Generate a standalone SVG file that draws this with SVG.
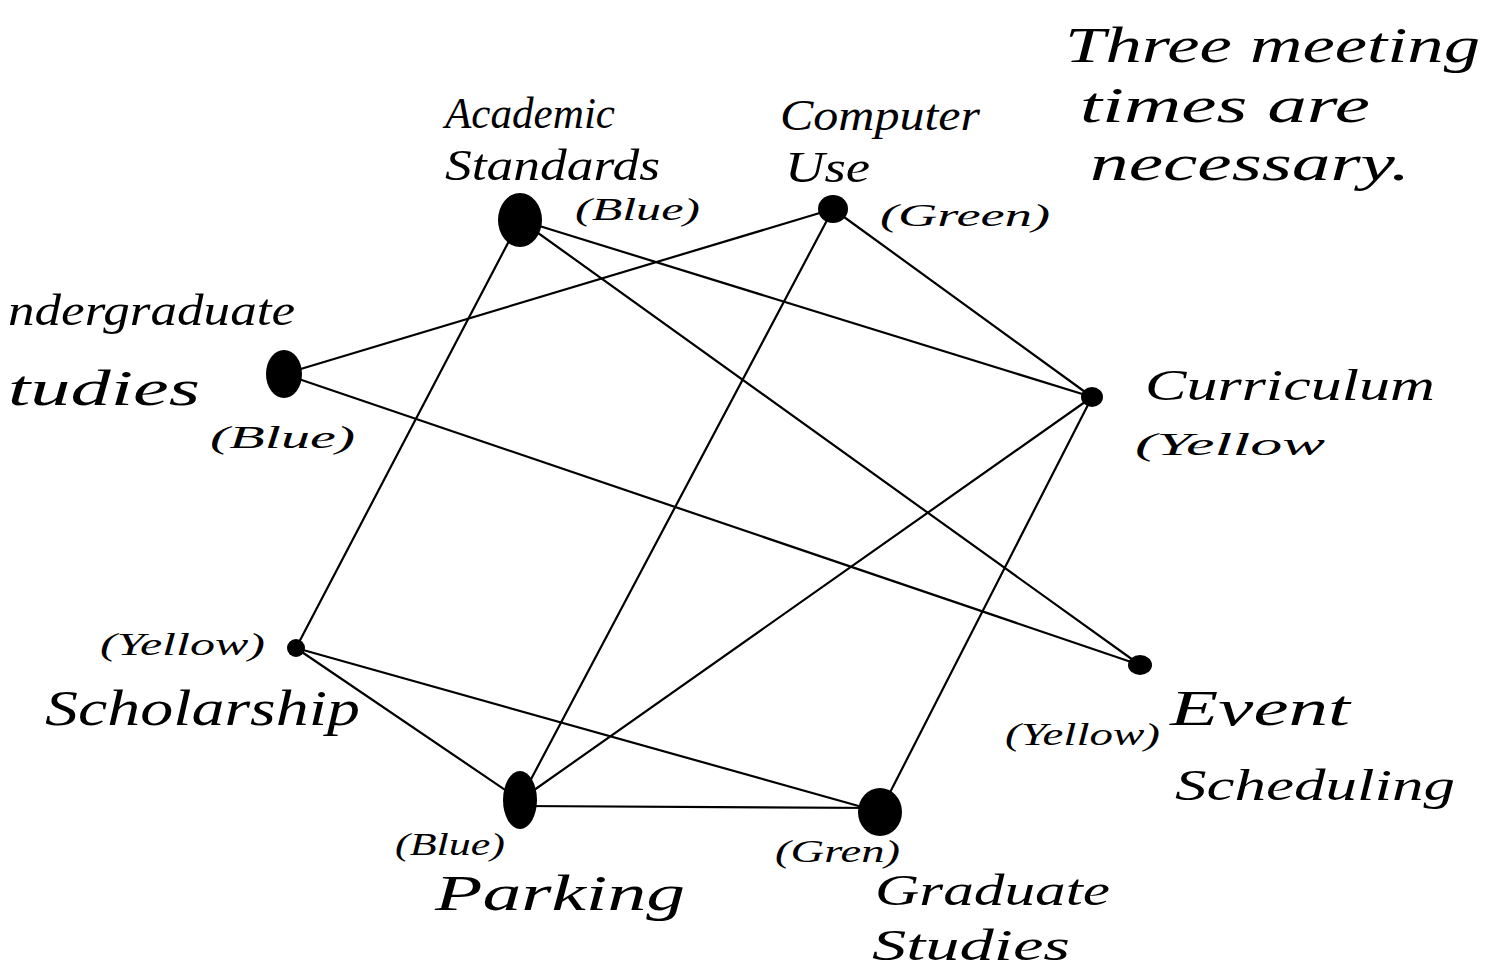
<svg xmlns="http://www.w3.org/2000/svg" width="1500" height="978" viewBox="0 0 1500 978">
<style>
.e{stroke:#000;stroke-width:2.2;fill:none;stroke-linecap:round}
.n{fill:#000}
.t{font-family:"Liberation Serif","DejaVu Serif",serif;font-style:italic;fill:#000;font-size:44px}
.b{font-size:50px}
.c{font-family:"Liberation Serif","DejaVu Serif",serif;font-style:italic;fill:#000;font-size:32px}
</style>
<rect width="1500" height="978" fill="#fff"/>
<g id="connectors">
<line class="e" x1="520" y1="220" x2="296" y2="648"/>
<line class="e" x1="520" y1="220" x2="1092" y2="397"/>
<line class="e" x1="520" y1="220" x2="1140" y2="665"/>
<line class="e" x1="833" y1="209" x2="284" y2="374"/>
<line class="e" x1="833" y1="209" x2="1092" y2="397"/>
<line class="e" x1="833" y1="209" x2="520" y2="800"/>
<line class="e" x1="284" y1="374" x2="1140" y2="665"/>
<line class="e" x1="1092" y1="397" x2="520" y2="800"/>
<line class="e" x1="1092" y1="397" x2="880" y2="812"/>
<line class="e" x1="296" y1="648" x2="520" y2="800"/>
<line class="e" x1="296" y1="648" x2="880" y2="812"/>
<line class="e" x1="520" y1="806" x2="880" y2="808"/>
</g>
<g id="academic-standards">
<ellipse class="n" cx="520" cy="220" rx="22" ry="27"/>
<text class="t" x="445" y="128" textLength="170" lengthAdjust="spacingAndGlyphs">Academic</text>
<text class="t" x="445" y="180" textLength="215" lengthAdjust="spacingAndGlyphs">Standards</text>
<text class="c" x="575" y="220" textLength="125" lengthAdjust="spacingAndGlyphs">(Blue)</text>
</g>
<g id="computer-use">
<ellipse class="n" cx="833" cy="209" rx="15" ry="14"/>
<text class="t" x="780" y="130" textLength="200" lengthAdjust="spacingAndGlyphs">Computer</text>
<text class="t" x="785" y="182" textLength="85" lengthAdjust="spacingAndGlyphs">Use</text>
<text class="c" x="880" y="226" textLength="170" lengthAdjust="spacingAndGlyphs">(Green)</text>
</g>
<g id="undergraduate-studies">
<ellipse class="n" cx="284" cy="374" rx="18" ry="24"/>
<text class="t" x="8" y="325" textLength="287" lengthAdjust="spacingAndGlyphs">ndergraduate</text>
<text class="t b" x="8" y="405" textLength="192" lengthAdjust="spacingAndGlyphs">tudies</text>
<text class="c" x="210" y="448" textLength="145" lengthAdjust="spacingAndGlyphs">(Blue)</text>
</g>
<g id="curriculum">
<ellipse class="n" cx="1092" cy="397" rx="11" ry="10"/>
<text class="t" x="1145" y="400" textLength="290" lengthAdjust="spacingAndGlyphs">Curriculum</text>
<text class="c" x="1135" y="455" textLength="190" lengthAdjust="spacingAndGlyphs">(Yellow</text>
</g>
<g id="scholarship">
<ellipse class="n" cx="296" cy="648" rx="9" ry="9"/>
<text class="c" x="100" y="655" textLength="165" lengthAdjust="spacingAndGlyphs">(Yellow)</text>
<text class="t b" x="45" y="725" textLength="315" lengthAdjust="spacingAndGlyphs">Scholarship</text>
</g>
<g id="event-scheduling">
<ellipse class="n" cx="1140" cy="665" rx="12" ry="10"/>
<text class="c" x="1005" y="745" textLength="155" lengthAdjust="spacingAndGlyphs">(Yellow)</text>
<text class="t b" x="1170" y="725" textLength="180" lengthAdjust="spacingAndGlyphs">Event</text>
<text class="t" x="1175" y="800" textLength="280" lengthAdjust="spacingAndGlyphs">Scheduling</text>
</g>
<g id="parking">
<ellipse class="n" cx="520" cy="800" rx="17" ry="29"/>
<text class="c" x="395" y="855" textLength="110" lengthAdjust="spacingAndGlyphs">(Blue)</text>
<text class="t b" x="435" y="910" textLength="250" lengthAdjust="spacingAndGlyphs">Parking</text>
</g>
<g id="graduate-studies">
<ellipse class="n" cx="880" cy="812" rx="22" ry="24"/>
<text class="c" x="775" y="862" textLength="125" lengthAdjust="spacingAndGlyphs">(Gren)</text>
<text class="t" x="875" y="905" textLength="235" lengthAdjust="spacingAndGlyphs">Graduate</text>
<text class="t" x="872" y="960" textLength="198" lengthAdjust="spacingAndGlyphs">Studies</text>
</g>
<g id="note">
<text class="t b" x="1065" y="62" textLength="415" lengthAdjust="spacingAndGlyphs">Three meeting</text>
<text class="t b" x="1080" y="122" textLength="290" lengthAdjust="spacingAndGlyphs">times are</text>
<text class="t b" x="1090" y="180" textLength="320" lengthAdjust="spacingAndGlyphs">necessary.</text>
</g>
</svg>
